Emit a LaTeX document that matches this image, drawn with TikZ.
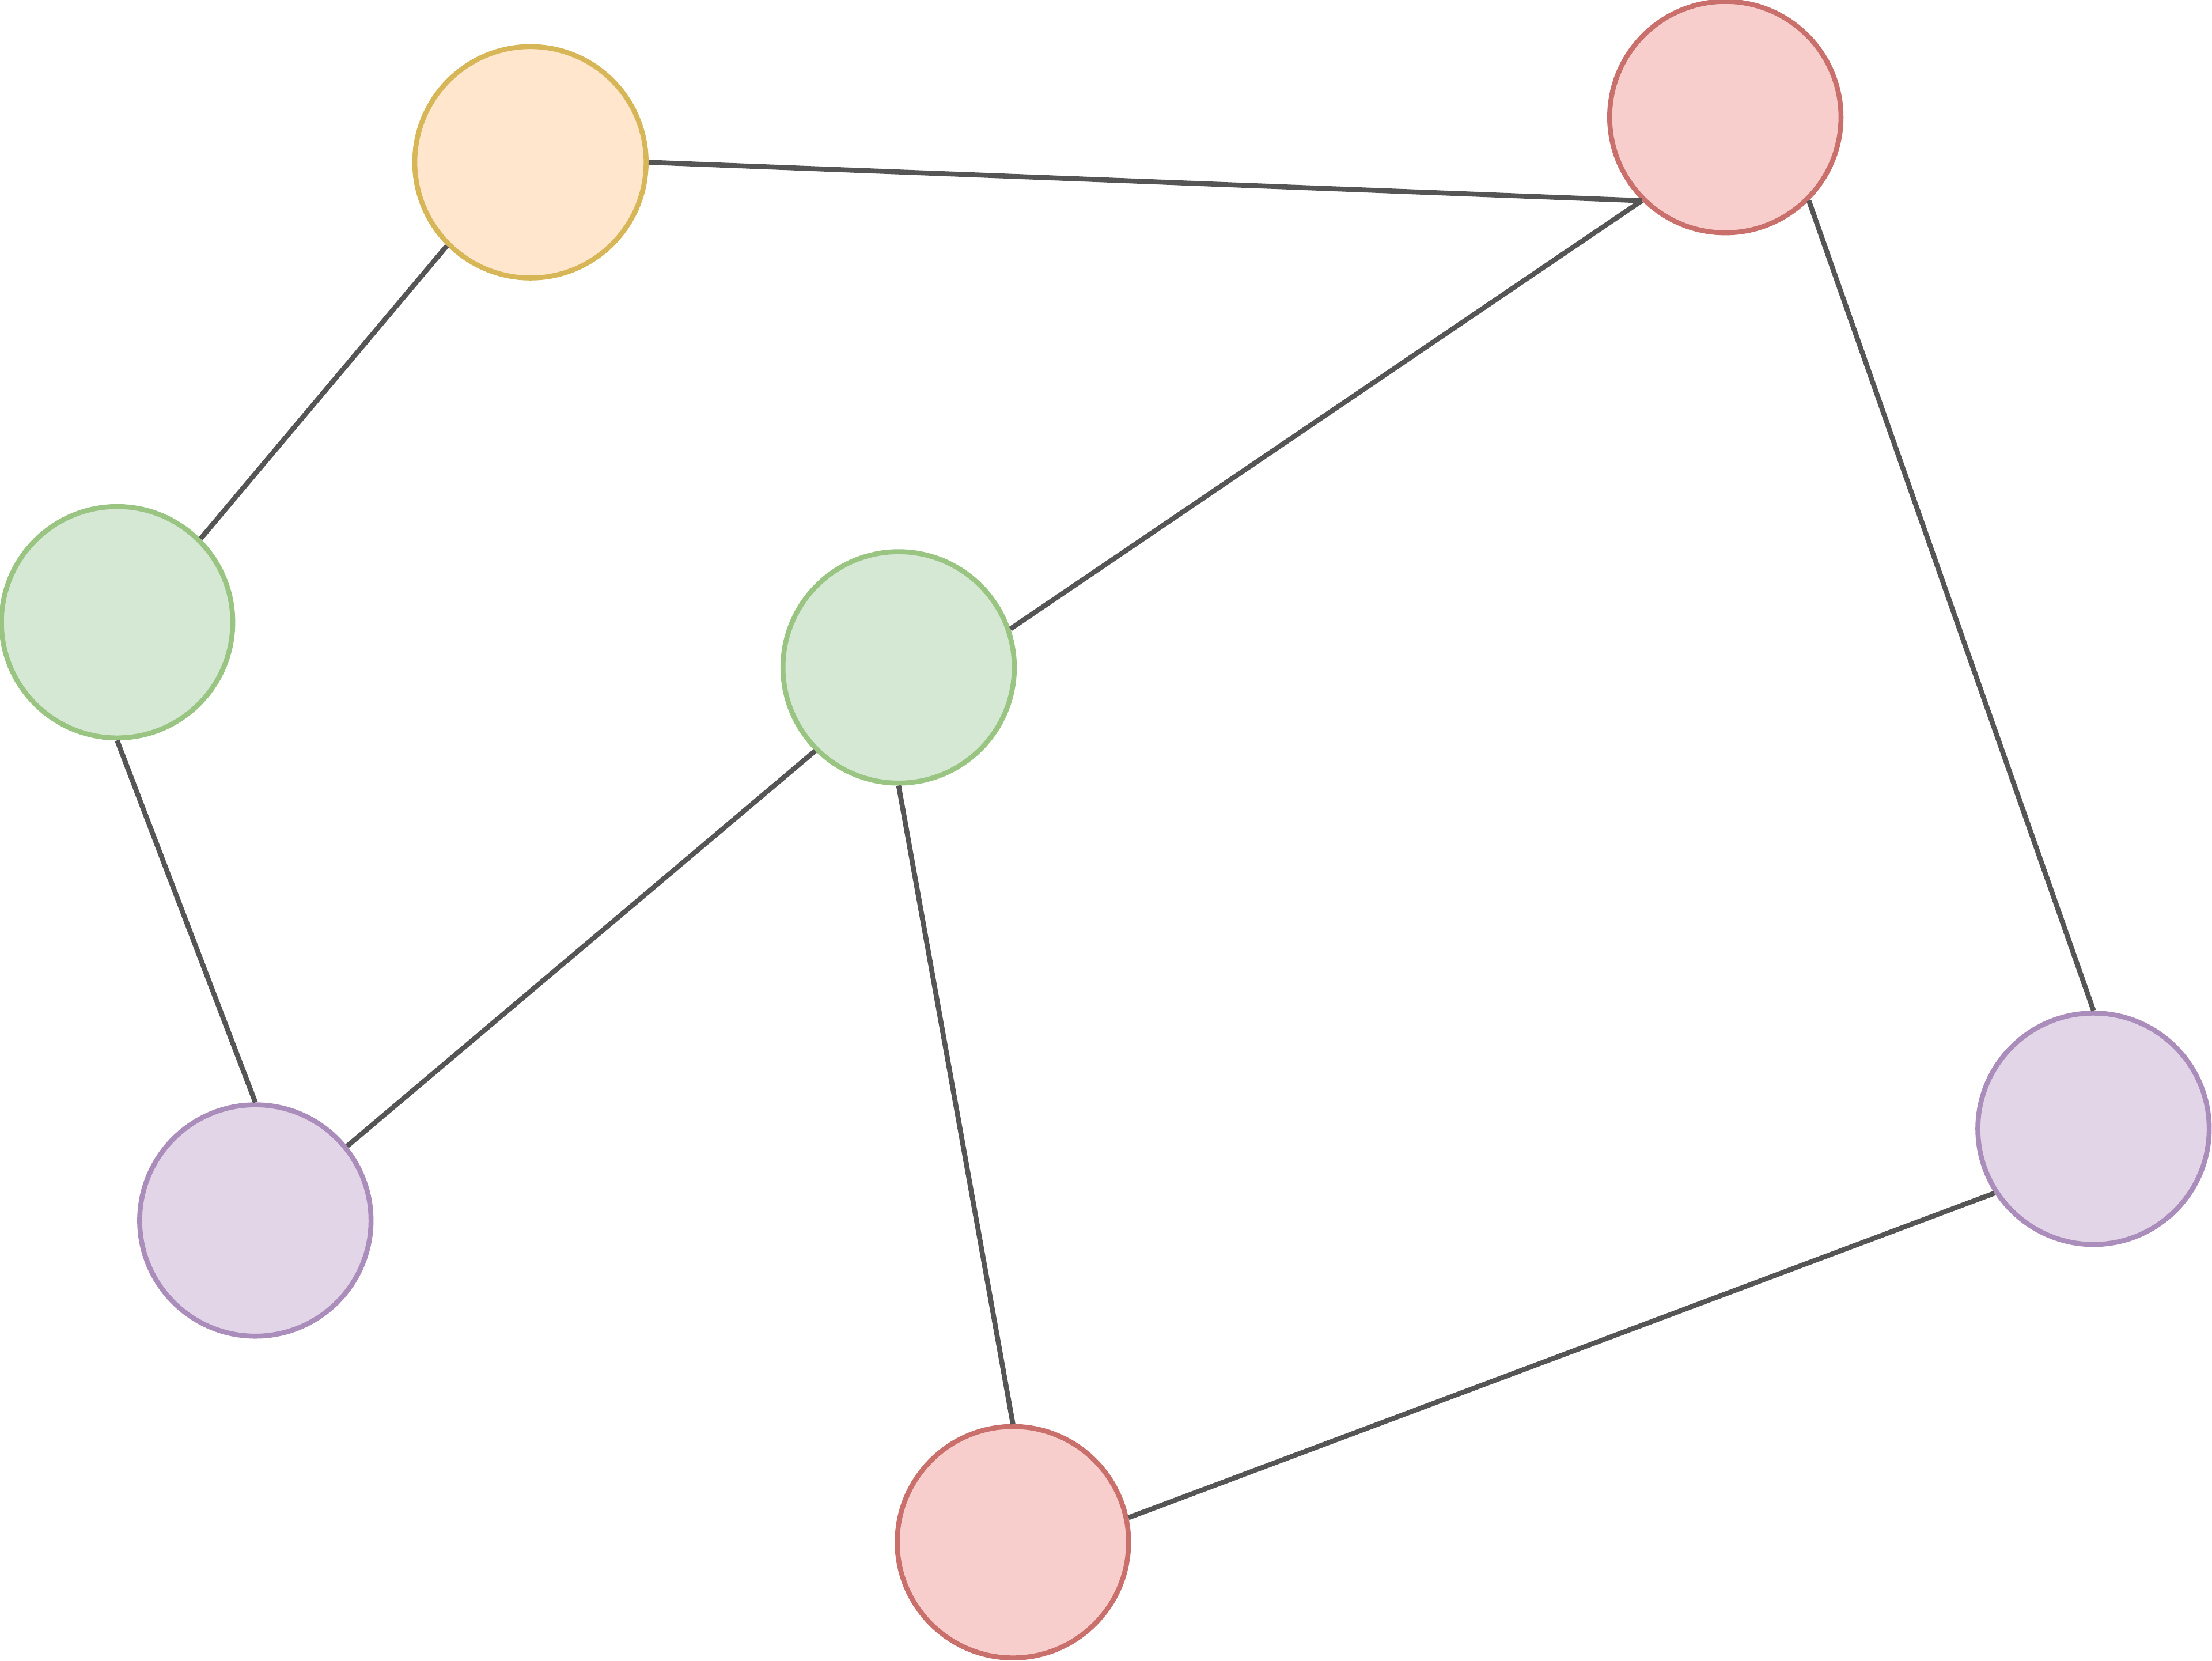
\documentclass[tikz,border=0pt]{standalone}
\usepackage{tikz}

\definecolor{orangefill}{HTML}{FFE6CC}
\definecolor{orangeline}{HTML}{D6B656}
\definecolor{redfill}{HTML}{F8CECC}
\definecolor{redline}{HTML}{C9706C}
\definecolor{greenfill}{HTML}{D5E8D4}
\definecolor{greenline}{HTML}{99C482}
\definecolor{purplefill}{HTML}{E1D5E7}
\definecolor{purpleline}{HTML}{AA8DBA}
\definecolor{edgegray}{HTML}{555555}

\begin{document}
\begin{tikzpicture}[
		vertex/.style={circle,draw,line width=1pt,inner sep=0pt,minimum size=1.64cm},
		link/.style={draw=edgegray,line width=1pt}
	]
		\useasboundingbox (0,0) rectangle (15.68,-11.77);
%		\draw[help lines] (0,0) grid (15.68,-11.77);
		\path (3.76,-1.15) node(orange) [vertex,draw=orangeline,fill=orangefill] {};
		\path (12.23,-0.83) node(red_top) [vertex,draw=redline,fill=redfill] {};
		\path (0.83,-4.41) node(green_left) [vertex,draw=greenline,fill=greenfill] {};
		\path (6.37,-4.73) node(green_mid) [vertex,draw=greenline,fill=greenfill] {};
		\path (1.81,-8.65) node(purple_left) [vertex,draw=purpleline,fill=purplefill] {};
		\path (14.84,-8.00) node(purple_right) [vertex,draw=purpleline,fill=purplefill] {};
		\path (7.18,-10.93) node(red_bottom) [vertex,draw=redline,fill=redfill] {};

		\draw[link] (orange.east) -- (red_top.south west);
		\draw[link] (green_mid.19) -- (red_top.south west);
		\draw[link] (orange.south west) -- (green_left.north east);
		\draw[link] (green_left.south) -- (purple_left.north);
		\draw[link] (green_mid.south west) -- (purple_left.39);
		\draw[link] (green_mid.south) -- (red_bottom.north);
		\draw[link] (red_top.south east) -- (purple_right.north);
		\draw[link] (red_bottom.12) -- (purple_right.213);
	\end{tikzpicture}
\end{document}
